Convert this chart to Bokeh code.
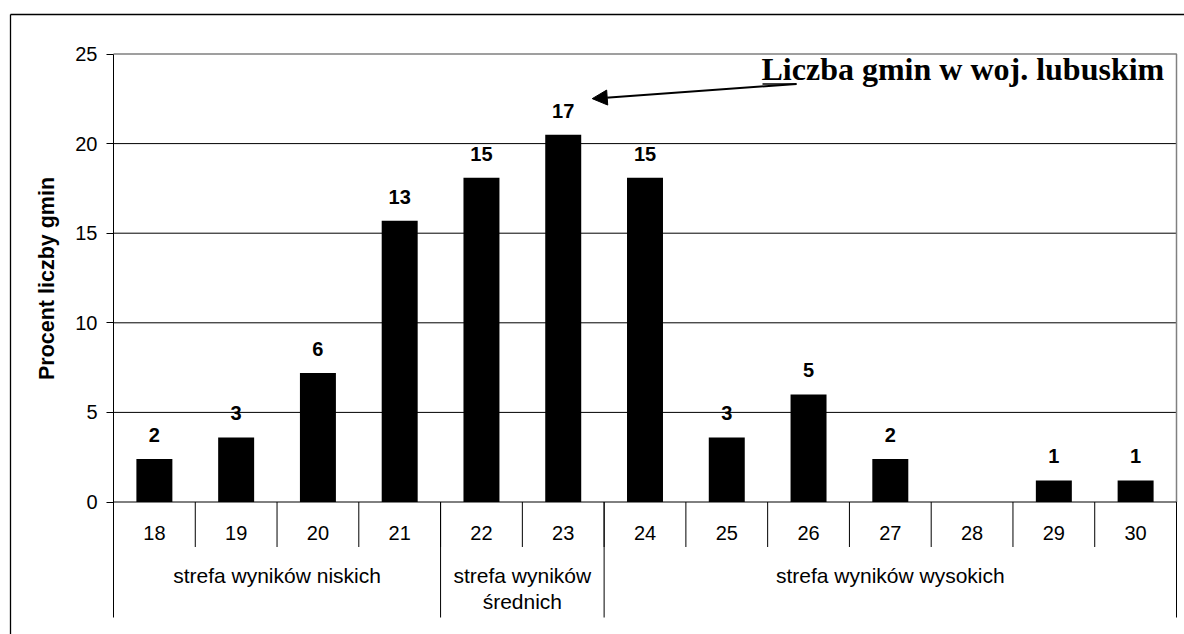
import numpy as np
from bokeh.plotting import figure
from bokeh.models import Range1d, FixedTicker, Arrow, NormalHead, ColumnDataSource
from bokeh.core.properties import value
from bokeh.embed import file_html
from bokeh.resources import INLINE

# ---------------- data ----------------
categories = ["18", "19", "20", "21", "22", "23", "24", "25", "26", "27", "28", "29", "30"]
percent = [2.4, 3.6, 7.2, 15.7, 18.1, 20.5, 18.1, 3.6, 6.0, 2.4, 0.0, 1.2, 1.2]
counts = [2, 3, 6, 13, 15, 17, 15, 3, 5, 2, 0, 1, 1]
groups = ["strefa wyników niskich", "strefa wyników\nśrednich", "strefa wyników wysokich"]
group_sizes = [4, 2, 7]
y_ticks = [0, 5, 10, 15, 20, 25]
y_title = "Procent liczby gmin"
annotation_text = "Liczba gmin w woj. lubuskim"
annotated_category = "23"

# ---------------- layout (canvas pixels) ----------------
W, H = 1184, 634
PLOT_L, PLOT_R = 113.0, 1176.0     # x of first / last category boundary
PLOT_T, PLOT_B = 53.5, 501.5       # y of top tick / zero line
n = len(categories)
Y_TOP = y_ticks[-1]
pxu_x = (PLOT_R - PLOT_L) / n
pxu_y = (PLOT_B - PLOT_T) / Y_TOP
BASE_FIX = 0.35  # empirical baseline correction (in em) for svg text glyphs


def px_x(px):
    return (px - PLOT_L) / pxu_x


def px_y(py):
    return (PLOT_B - py) / pxu_y


SANS = "Liberation Sans"
SERIF = "Liberation Serif"

p = figure(width=W, height=H,
           x_range=Range1d(px_x(0), px_x(W)), y_range=Range1d(px_y(H), px_y(0)),
           x_axis_location=None, output_backend="svg", toolbar_location=None,
           min_border_left=0, min_border_right=0, min_border_top=0, min_border_bottom=0)
p.title.visible = False
p.outline_line_color = None
p.background_fill_color = "white"
p.border_fill_color = "white"
p.xgrid.visible = False
p.ygrid.visible = False

# y axis (fixed at the first category boundary)
ya = p.yaxis[0]
ya.fixed_location = 0
ya.ticker = FixedTicker(ticks=y_ticks)
ya.bounds = (0, Y_TOP)
ya.axis_line_color = "black"
ya.axis_line_width = 1
ya.major_tick_out = 7
ya.major_tick_in = 0
ya.minor_tick_out = 0
ya.minor_tick_in = 0
ya.major_tick_line_color = "black"
ya.major_label_text_font = SANS
ya.major_label_text_font_size = "20px"
ya.major_label_text_color = "black"
ya.major_label_standoff = 9
ya.axis_label = y_title
ya.axis_label_text_font = SANS
ya.axis_label_text_font_style = "bold"
ya.axis_label_text_font_size = "21.5px"
ya.axis_label_text_color = "black"
ya.axis_label_standoff = 13

# outer chart border (top and left edges are visible)
p.segment(x0=[px_x(10), px_x(10)], y0=[px_y(14), px_y(14)],
          x1=[px_x(W + 10), px_x(10)], y1=[px_y(14), px_y(H + 10)],
          line_color="black", line_width=1.3)

# horizontal grid lines
gy = [t for t in y_ticks if 0 < t < Y_TOP]
p.segment(x0=np.zeros(len(gy)), y0=gy, x1=np.full(len(gy), n), y1=gy,
          line_color="black", line_width=1)

# plot-area border (top and right), gray
p.line(x=[0, n, n], y=[Y_TOP, Y_TOP, 0], line_color="#808080", line_width=1.5)

centers = np.arange(n) + 0.5

# bars
p.vbar(x=centers, top=percent, width=0.44, fill_color="black", line_color=None)

# x axis line
p.segment(x0=[0], y0=[0], x1=[n], y1=[0], line_color="black", line_width=1)

# bar labels
lab_idx = [i for i in range(n) if counts[i] > 0]
lab_src = ColumnDataSource(dict(x=[centers[i] for i in lab_idx],
                                y=[percent[i] for i in lab_idx],
                                t=[str(counts[i]) for i in lab_idx]))
p.text(x="x", y="y", text="t", source=lab_src, text_font=value(SANS), text_font_style="bold",
       text_font_size="20px", text_align="center", text_baseline="alphabetic",
       y_offset=-17 - BASE_FIX * 20, text_color="black")

# category boundary ticks
bounds = np.arange(n + 1)
p.segment(x0=bounds, y0=np.zeros(n + 1), x1=bounds, y1=np.full(n + 1, -45 / pxu_y),
          line_color="black", line_width=1)

# category labels
p.text(x=centers, y=np.zeros(n), text=categories, text_font=value(SANS), text_font_size="20px",
       text_align="center", text_baseline="alphabetic", y_offset=38 - BASE_FIX * 20,
       text_color="black")

# group lines and labels
gb = np.concatenate([[0], np.cumsum(group_sizes)])
p.segment(x0=gb, y0=np.zeros(len(gb)), x1=gb, y1=np.full(len(gb), -115.5 / pxu_y),
          line_color="black", line_width=1)
for gi, g in enumerate(groups):
    c = (gb[gi] + gb[gi + 1]) / 2
    for li, line in enumerate(g.split("\n")):
        p.text(x=[c], y=[0], text=[line], text_font=value(SANS), text_font_size="21px",
               text_align="center", text_baseline="alphabetic",
               y_offset=81 + 26 * li - BASE_FIX * 21, text_color="black")

# annotation (callout with arrow pointing at the annotated bar's label)
ai = categories.index(annotated_category)
tip_x = centers[ai] + 29 / pxu_x
tip_y = percent[ai] + 36 / pxu_y
start_x = px_x(796)
start_y = px_y(83.5)
p.add_layout(Arrow(end=NormalHead(size=15, fill_color="black", line_color="black"),
                   x_start=start_x, y_start=start_y, x_end=tip_x, y_end=tip_y,
                   line_color="black", line_width=2))
p.segment(x0=[px_x(762)], y0=[start_y], x1=[start_x], y1=[start_y], line_color="black", line_width=1.5)
p.text(x=[px_x(761)], y=[px_y(79.5)], text=[annotation_text], text_font=value(SERIF),
       text_font_style="bold", text_font_size="32px", text_align="left",
       text_baseline="alphabetic", y_offset=-BASE_FIX * 32, text_color="black")

open("out.html", "w").write(file_html(p, INLINE))
